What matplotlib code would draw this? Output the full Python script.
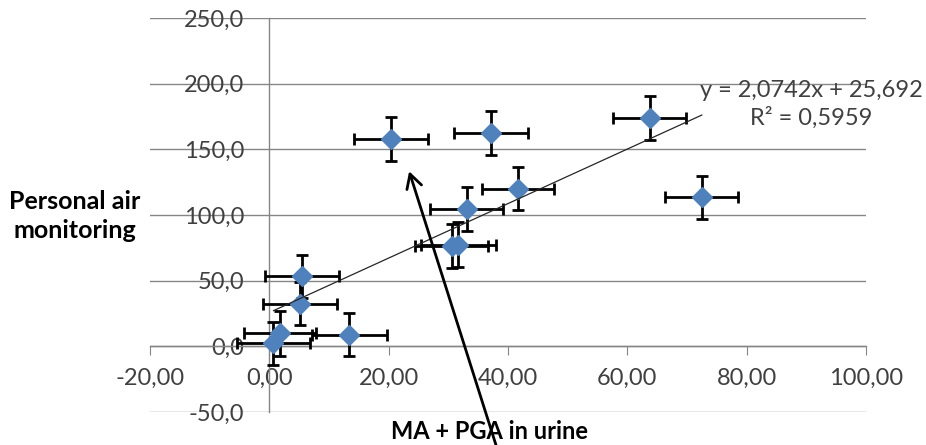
import numpy as np
import matplotlib.pyplot as plt
from matplotlib.ticker import FuncFormatter

# Datos
x_vals = [20.4, 37.2, 41.7, 33.1, 63.8, 72.5, 30.6, 31.7, 5.5, 5.1, 13.4, 0.7, 1.8]
y_vals = [157.8, 162.4, 120.1, 104.6, 173.8, 113.5, 76.5, 77.5, 53.2, 32.4, 8.9, 2.3, 9.9]
x_err = [6.2, 6.2, 6.1, 6.1, 6.1, 6.1, 6.1, 6.3, 6.2, 6.2, 6.3, 6.2, 6.0]
y_err = [16.7, 16.5, 16.5, 16.5, 16.5, 16.5, 17.0, 17.0, 16.5, 16.5, 16.5, 16.5, 17.0]

# Linea de tendencia (de la etiqueta del grafico)
slope = 2.0742
intercept = 25.692
r2 = 0.5959

x_ticks = [-20, 0, 20, 40, 60, 80, 100]
y_ticks = [-50, 0, 50, 100, 150, 200, 250]

# Flecha
arrow_tip = (23.3, 135.3)
arrow_tail = (38.2, -78.0)

plt.rcParams['font.family'] = ['Lato', 'DejaVu Sans']
gray = '#868686'

fig = plt.figure(figsize=(9.26, 4.45), dpi=100)
ax = fig.add_axes([0.162, 0.0742, 0.773, 0.8854])
ax.set_xlim(-20, 100)
ax.set_ylim(-50, 250)

# Ejes cruzando en 0
ax.spines['left'].set_position(('data', 0))
ax.spines['bottom'].set_position(('data', 0))
ax.spines['top'].set_visible(False)
ax.spines['right'].set_visible(False)
for s in ['left', 'bottom']:
    ax.spines[s].set_color(gray)
    ax.spines[s].set_linewidth(1)

ax.set_xticks(x_ticks)
ax.set_yticks(y_ticks)
ax.xaxis.set_major_formatter(FuncFormatter(lambda v, p: f"{v:.2f}".replace('.', ',')))
ax.yaxis.set_major_formatter(FuncFormatter(lambda v, p: f"{v:.1f}".replace('.', ',')))
ax.tick_params(axis='y', length=0, pad=18, labelsize=17, labelcolor='#404040')
ax.tick_params(axis='x', length=6.5, direction='out', color=gray, pad=9,
               labelsize=17, labelcolor='#404040')
for lbl in ax.get_xticklabels():
    lbl.set_bbox(dict(facecolor='white', edgecolor='none', pad=0))

# Grilla horizontal
ax.grid(axis='y', color=gray, linewidth=1)
ax.set_axisbelow(True)

# Barras de error y puntos
ax.errorbar(x_vals, y_vals, xerr=x_err, yerr=y_err, fmt='none', ecolor='black',
            elinewidth=2, capsize=4.3, capthick=2, zorder=3)
ax.plot(x_vals, y_vals, 'D', color='#4F81BD', markersize=10.5, zorder=4)

# Tendencia
xt = np.array([min(x_vals), max(x_vals)])
ax.plot(xt, slope * xt + intercept, color='#262626', linewidth=0.9, zorder=5)

eq = f"y = {slope:.4f}x + {intercept:.3f}".replace('.', ',')
ax.text(90.9, 194.5, eq, ha='center', va='center', fontsize=17, color='#404040')
ax.text(90.9, 174.0, f"R² = {r2:.4f}".replace('.', ','), ha='center', va='center',
        fontsize=17, color='#404040')

# Flecha
ax.annotate('', xy=arrow_tip, xytext=arrow_tail, annotation_clip=False,
            arrowprops=dict(arrowstyle='->,head_length=1.0,head_width=0.55',
                            color='black', linewidth=2), zorder=6)

# Titulos de ejes
fig.text(0.081, 0.515, "Personal air\nmonitoring", ha='center', va='center',
         fontsize=18, fontweight='bold', linespacing=1.3)
fig.text(0.529, 0.03, "MA + PGA in urine", ha='center', va='center',
         fontsize=17, fontweight='bold')

plt.savefig("out.png", dpi=100)
